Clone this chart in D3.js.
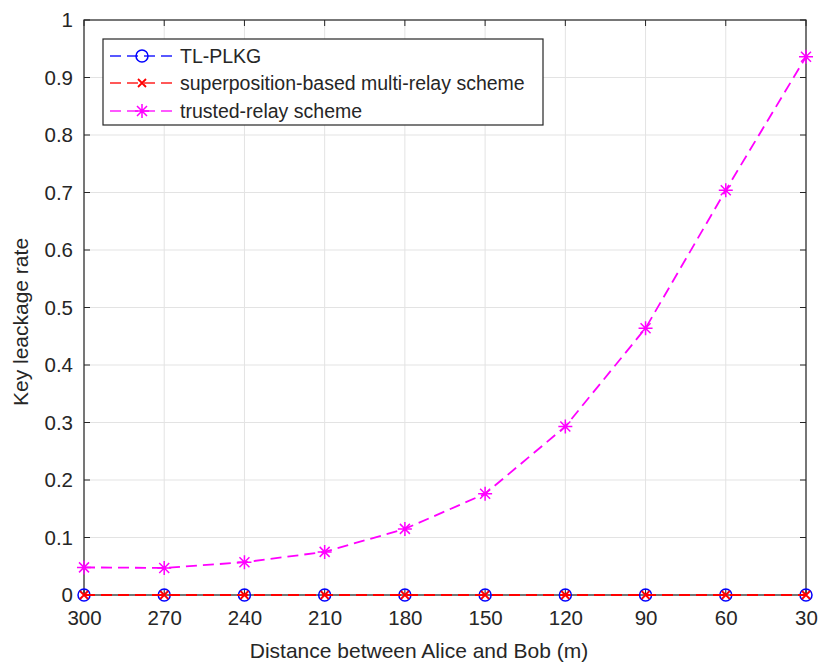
<!DOCTYPE html>
<html><head><meta charset="utf-8">
<script src="https://cdn.jsdelivr.net/npm/d3@7"></script>
<style>
html,body{margin:0;padding:0;background:#fff;}
svg{display:block;font-family:"Liberation Sans",Arial,Helvetica,sans-serif;}
</style></head>
<body>
<svg id="chart" width="823" height="664"></svg>
<script>
const distances = [300, 270, 240, 210, 180, 150, 120, 90, 60, 30];
const tlPlkg = [0, 0, 0, 0, 0, 0, 0, 0, 0, 0];
const superposition = [0, 0, 0, 0, 0, 0, 0, 0, 0, 0];
const trustedRelay = [0.048, 0.047, 0.057, 0.075, 0.115, 0.176, 0.293, 0.464, 0.704, 0.936];
const yTicks = [0, 0.1, 0.2, 0.3, 0.4, 0.5, 0.6, 0.7, 0.8, 0.9, 1];
const seriesNames = ["TL-PLKG", "superposition-based multi-relay scheme", "trusted-relay scheme"];
const seriesColors = ["#0000ff", "#ff0000", "#ff00ff"];
const seriesMarkers = ["circle", "x", "star"];

const svg = d3.select("#chart");
const L = 84, R = 806, T = 20, B = 595;
const x = d3.scalePoint().domain(distances).range([L, R]);
const y = d3.scaleLinear().domain([0, 1]).range([B, T]);
const textColor = "#262626";

// grid
const g = svg.append("g");
g.selectAll(".gx").data(distances).enter().append("line")
  .attr("x1", d => x(d)).attr("x2", d => x(d)).attr("y1", T).attr("y2", B)
  .attr("stroke", "#e3e3e3").attr("stroke-width", 1);
g.selectAll(".gy").data(yTicks).enter().append("line")
  .attr("x1", L).attr("x2", R).attr("y1", d => y(d)).attr("y2", d => y(d))
  .attr("stroke", "#e3e3e3").attr("stroke-width", 1);

// axes
const xAxis = d3.axisBottom(x).tickSize(0).tickPadding(13);
const yAxis = d3.axisLeft(y).tickValues(yTicks).tickSize(0).tickPadding(11).tickFormat(d => d3.format("")(+d.toFixed(1)));
const gx = svg.append("g").attr("transform", `translate(0,${B})`).call(xAxis);
const gy = svg.append("g").attr("transform", `translate(${L},0)`).call(yAxis);
[gx, gy].forEach(a => {
  a.select(".domain").remove();
  a.selectAll("text").attr("fill", textColor).style("font-size", "20.5px").style("font-family", "Liberation Sans, Arial, sans-serif");
});
gx.selectAll("text").attr("dy", "0.85em");

// inner tick marks (MATLAB style)
const tk = 6;
svg.append("g").selectAll("line").data(distances).enter().append("line")
  .attr("x1", d => x(d)).attr("x2", d => x(d)).attr("y1", B).attr("y2", B - tk)
  .attr("stroke", textColor);
svg.append("g").selectAll("line").data(distances).enter().append("line")
  .attr("x1", d => x(d)).attr("x2", d => x(d)).attr("y1", T).attr("y2", T + tk)
  .attr("stroke", textColor);
svg.append("g").selectAll("line").data(yTicks).enter().append("line")
  .attr("x1", L).attr("x2", L + tk).attr("y1", d => y(d)).attr("y2", d => y(d))
  .attr("stroke", textColor);
svg.append("g").selectAll("line").data(yTicks).enter().append("line")
  .attr("x1", R).attr("x2", R - tk).attr("y1", d => y(d)).attr("y2", d => y(d))
  .attr("stroke", textColor);

// box
svg.append("rect").attr("x", L).attr("y", T).attr("width", R - L).attr("height", B - T)
  .attr("fill", "none").attr("stroke", textColor).attr("stroke-width", 1.2);

// labels
svg.append("text").attr("x", 419).attr("y", 658).attr("text-anchor", "middle")
  .attr("fill", textColor).style("font-size", "21px").text("Distance between Alice and Bob (m)");
svg.append("text").attr("transform", `translate(28,322) rotate(-90)`).attr("text-anchor", "middle")
  .attr("fill", textColor).style("font-size", "21px").text("Key leackage rate");

function drawMarker(sel, type, color, cx, cy) {
  if (type === "circle") {
    sel.append("circle").attr("cx", cx).attr("cy", cy).attr("r", 6)
      .attr("fill", "none").attr("stroke", color).attr("stroke-width", 1.5);
  } else if (type === "x") {
    const s = 4;
    sel.append("path").attr("d", `M${cx - s},${cy - s}L${cx + s},${cy + s}M${cx - s},${cy + s}L${cx + s},${cy - s}`)
      .attr("stroke", color).attr("stroke-width", 1.8).attr("fill", "none");
  } else {
    const s = 7, d = 5;
    sel.append("path").attr("d", `M${cx},${cy - s}L${cx},${cy + s}M${cx - s},${cy}L${cx + s},${cy}M${cx - d},${cy - d}L${cx + d},${cy + d}M${cx - d},${cy + d}L${cx + d},${cy - d}`)
      .attr("stroke", color).attr("stroke-width", 1.5).attr("fill", "none");
  }
}

const allSeries = [tlPlkg, superposition, trustedRelay];
const line = d3.line().x((d, i) => x(distances[i])).y(d => y(d)).curve(d3.curveLinear);
allSeries.forEach((vals, k) => {
  const grp = svg.append("g");
  grp.append("path").datum(vals).attr("d", line).attr("fill", "none")
    .attr("stroke", seriesColors[k]).attr("stroke-width", 1.8).attr("stroke-dasharray", "11,6");
  vals.forEach((v, i) => drawMarker(grp, seriesMarkers[k], seriesColors[k], x(distances[i]), y(v)));
});

// legend
const lg = svg.append("g");
lg.append("rect").attr("x", 103).attr("y", 39).attr("width", 440).attr("height", 86)
  .attr("fill", "#fff").attr("stroke", textColor).attr("stroke-width", 1.2);
const rowY = [56, 83, 111];
seriesNames.forEach((name, k) => {
  const yy = rowY[k];
  lg.append("line").attr("x1", 110).attr("x2", 177).attr("y1", yy).attr("y2", yy)
    .attr("stroke", seriesColors[k]).attr("stroke-width", 1.8).attr("stroke-dasharray", "11,6").attr("opacity", 0.65);
  drawMarker(lg, seriesMarkers[k], seriesColors[k], 142, yy);
  lg.append("text").attr("x", 180).attr("y", yy).attr("dy", "0.35em").attr("fill", textColor)
    .style("font-size", "19.5px").text(name);
});
</script>
</body></html>
